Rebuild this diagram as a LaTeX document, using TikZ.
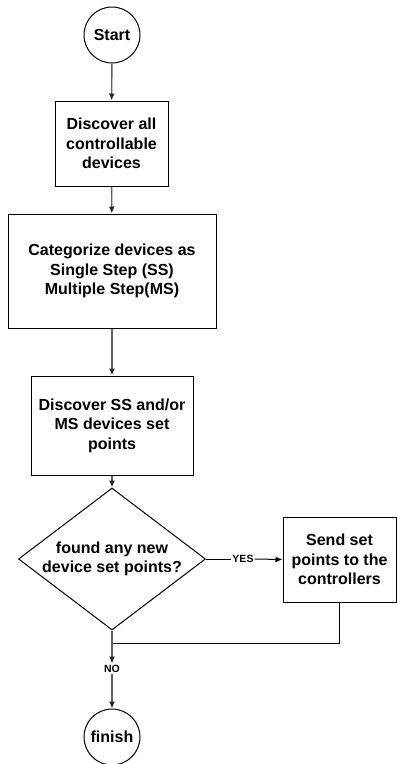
\documentclass[tikz,border=0pt]{standalone}
\usepackage{fontspec}
\setmainfont{Liberation Sans}
\usetikzlibrary{shapes.geometric,arrows.meta}
\begin{document}
\begin{tikzpicture}[x=1pt,y=-1pt,
  every node/.style={font=\bfseries\fontsize{16}{19.5}\selectfont, align=center, inner sep=0pt},
  term/.style={draw, circle, minimum size=56pt, line width=1pt},
  proc/.style={draw, rectangle, line width=1pt},
  dec/.style={draw, diamond, line width=1pt, minimum width=187pt, minimum height=142pt},
  lab/.style={font=\bfseries\fontsize{10.5}{12}\selectfont},
  conn/.style={line width=1.4pt, draw=black!62, -{Latex[length=7pt,width=6pt,color=black!85]}},
  hconn/.style={line width=1pt, draw=black, -{Latex[length=7pt,width=6pt]}},
  plain/.style={line width=1pt, draw=black}]
\useasboundingbox (0,0) rectangle (398,764);
\node[term] (start) at (112,35) {Start};
\node[proc, minimum width=113pt, minimum height=85pt] (b1) at (111.5,143.5) {Discover all\\controllable\\devices};
\node[proc, minimum width=208pt, minimum height=114pt] (b2) at (112,271) {Categorize devices as\\Single Step (SS)\\Multiple Step(MS)};
\node[proc, minimum width=162pt, minimum height=99pt] (b3) at (112,425.5) {Discover SS and/or\\MS devices set\\points};
\node[dec] (dia) at (112,559) {};
\node (diatext) at (dia.center) {found any new\\device set points?};
\node[proc, minimum width=113pt, minimum height=85pt] (b4) at (339.5,559.5) {Send set\\points to the\\controllers};
\node[term] (fin) at (112,737) {finish};
\coordinate (j) at (112,643);
\node[lab, fill=white, inner sep=1.5pt] (no) at (112,669) {NO};
\node[lab, fill=white, inner sep=1pt] (yes) at (243,559) {YES};

\draw[conn] (start) -- (b1);
\draw[conn] (b1) -- (b2);
\draw[conn] (b2) -- (b3);
\draw[conn] (b3) -- (dia);
\draw[plain] (dia.east) -- (yes.west);
\draw[hconn] (yes.east) -- (b4.west);
\draw[plain] (b4.south) |- (j);
\draw[conn] (dia.south) -- (no.north);
\draw[conn] (no.south) -- (fin.north);
\end{tikzpicture}
\end{document}
